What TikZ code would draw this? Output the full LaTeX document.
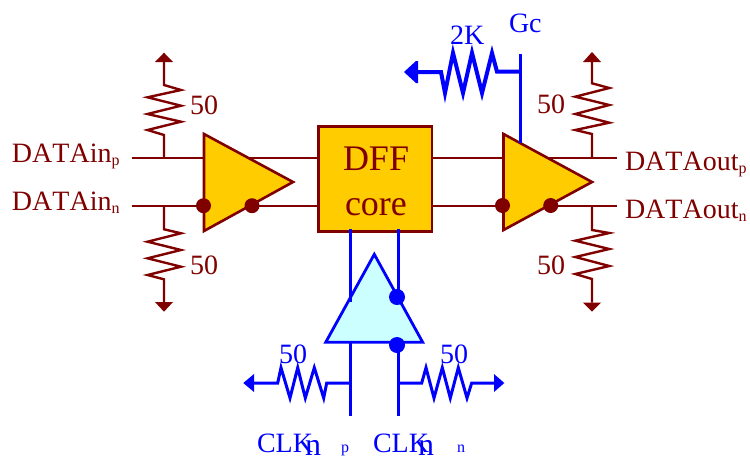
\documentclass[tikz,border=0pt]{standalone}
\usepackage{fontspec}
\setmainfont[Kerning=Off]{Liberation Serif}
\definecolor{dred}{RGB}{128,0,0}
\definecolor{amber}{RGB}{255,204,0}
\definecolor{pale}{RGB}{204,255,255}
\definecolor{bblue}{RGB}{0,0,255}
\newcommand{\fs}[1]{\fontsize{#1}{#1}\selectfont}
\newcommand{\lab}[2]{\fs{28}#1\raisebox{-3pt}{\fs{16}#2}}
\tikzset{
  every node/.style={inner sep=0pt,outer sep=0pt,anchor=base west},
  redw/.style={draw=dred,line width=2.4pt,line join=miter},
  bluew/.style={draw=bblue,line width=3pt},
  bluethick/.style={draw=bblue,line width=4pt,line join=miter},
  ampbody/.style={draw=dred,fill=amber,line width=2.6pt,line join=miter},
  redtxt/.style={text=dred,font=\fs{28}},
  bluetxt/.style={text=bblue,font=\fs{28}},
  reddot/.style={fill=dred,draw=none},
  bluedot/.style={fill=bblue,draw=none},
  redtip/.style={fill=dred,draw=none},
  bluetip/.style={fill=bblue,draw=none}
}
\begin{document}
\begin{tikzpicture}[x=1pt,y=-1pt]
\useasboundingbox (0,0) rectangle (750,456);
\coordinate (lpi) at (132,157.7); \coordinate (lni) at (132,205.7);
\coordinate (lpa) at (204,157.7); \coordinate (lna) at (204,205.7);
\coordinate (lpb) at (245,157.7); \coordinate (lnb) at (252,205.7);
\coordinate (rpa) at (503,157.7); \coordinate (rna) at (503,205.7);
\coordinate (rpb) at (545,157.7); \coordinate (rnb) at (551,205.7);
\coordinate (rpo) at (617,157.7); \coordinate (rno) at (617,205.7);
\node[draw=dred,fill=amber,line width=2.6pt,minimum width=113.5pt,minimum height=105pt,anchor=center] (dff) at (375.2,178.8) {};
\draw[redw] (lpi)--(lpa) (lni)--(lna) (lpb)--(dff.west|-lpb) (lnb)--(dff.west|-lnb);
\draw[redw] (dff.east|-rpa)--(rpa) (dff.east|-rna)--(rna) (rpb)--(rpo) (rnb)--(rno);
\draw[ampbody] (204,134)--(293,182)--(204,231)--cycle;
\draw[ampbody] (503.5,134)--(592,182)--(503.5,230)--cycle;
\fill[reddot] (203.5,205.7) circle (7.5) (252,205.7) circle (7.5) (502.5,205.5) circle (7.5) (550.7,205.5) circle (7.5);
\draw[redw] (164,157.7)--(164,135)--(147.5,130)--(181,121.7)--(147.5,114)--(181,105.7)--(147.5,97.3)--(181,90)--(164,85)--(164,62);
\fill[redtip] (164,52.7)--(173,62)--(155,62)--cycle;
\draw[redw] (164,205.7)--(164,229.3)--(181,233.3)--(147.5,241.7)--(181,250)--(147.5,258.3)--(181,266.7)--(147.5,275)--(164,279.3)--(164,302);
\fill[redtip] (164,311.7)--(173,302)--(155,302)--cycle;
\draw[redw] (592,157.7)--(592,134)--(575.3,130)--(609.3,122.7)--(575.3,114)--(609.3,105)--(575.3,96.7)--(609.3,88)--(592,83.3)--(592,62);
\fill[redtip] (592,52)--(601,62)--(583,62)--cycle;
\draw[redw] (592,205.7)--(592,230)--(609.3,233)--(575.3,240.7)--(609.3,249)--(575.3,257)--(609.3,266)--(575.3,274)--(592,279)--(592,302.7);
\fill[redtip] (592,311.7)--(601,302.7)--(583,302.7)--cycle;
\draw[bluew] (520,54)--(520,143);
\draw[bluethick] (520,71.7)--(497,71.7)--(492,53)--(482,93)--(472,53)--(463,93)--(453,53)--(445,93)--(441,72)--(417,72);
\fill[bluetip] (404,72)--(416,61)--(418,61)--(418,83)--(416,83)--cycle;
\draw[draw=bblue,fill=pale,line width=2.8pt,line join=miter] (374.3,254.3)--(422.7,342.3)--(325.7,342.3)--cycle;
\draw[bluew] (350.3,229)--(350.3,301.7) (398.3,229)--(398.3,297);
\draw[bluew] (350.3,342.3)--(350.3,415.7) (398.3,345)--(398.3,415.7);
\fill[bluedot] (397,297) circle (8) (397,345) circle (8);
\draw[bluew] (350.3,383)--(326.7,383)--(323.7,398)--(314.3,367.7)--(305.3,398)--(297.7,367.7)--(290,398)--(281,367.7)--(277.7,383)--(254,383);
\fill[bluetip] (243.3,383)--(254,374)--(254,392)--cycle;
\draw[bluew] (398.3,383)--(421.7,383)--(426,367.7)--(434,398)--(442.3,367.7)--(450.3,398)--(458.3,367.7)--(467,398)--(471.7,383)--(495,383);
\fill[bluetip] (504.3,383)--(494,374)--(494,392)--cycle;
\node[text=dred] (t1) at (12,162) {\lab{DATAin}{p}};
\node[text=dred] (t2) at (12,210) {\lab{DATAin}{n}};
\node[text=dred] (t3) at (625,170) {\lab{DATAout}{p}};
\node[text=dred] (t4) at (625,218) {\lab{DATAout}{n}};
\node[redtxt] (r1) at (190,114) {50};
\node[redtxt] (r2) at (190,274) {50};
\node[redtxt] (r3) at (537,113) {50};
\node[redtxt] (r4) at (537,274) {50};
\node[bluetxt] (b1) at (279,363) {50};
\node[bluetxt] (b2) at (440,363) {50};
\node[bluetxt] (b3) at (450,44) {2K};
\node[bluetxt] (b4) at (509,32) {Gc};
\node[text=dred,font=\fs{36}] (d1) at (343,170) {DFF};
\node[text=dred,font=\fs{36}] (d2) at (345,215) {core};
\node[bluetxt] (c1) at (257,452) {CLK};
\node[bluetxt,font=\fs{32}] (c2) at (305,455) {n};
\node[text=bblue,font=\fs{16}] (c3) at (341,452) {p};
\node[bluetxt] (c4) at (373,452) {CLK};
\node[bluetxt,font=\fs{32}] (c5) at (418,455) {n};
\node[text=bblue,font=\fs{16}] (c6) at (457,452) {n};
\end{tikzpicture}
\end{document}
